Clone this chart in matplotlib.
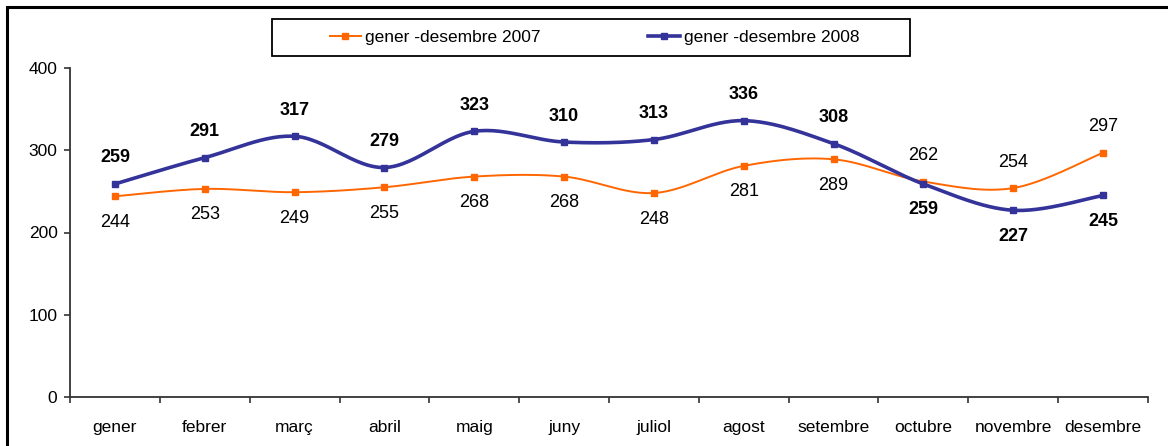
import numpy as np
import matplotlib.pyplot as plt
from matplotlib.patches import Rectangle
from matplotlib.lines import Line2D

plt.rcParams['font.family'] = ['Liberation Sans', 'DejaVu Sans']

mesos = ['gener', 'febrer', 'març', 'abril', 'maig', 'juny', 'juliol',
         'agost', 'setembre', 'octubre', 'novembre', 'desembre']
valors_2007 = [244, 253, 249, 255, 268, 268, 248, 281, 289, 262, 254, 297]
valors_2008 = [259, 291, 317, 279, 323, 310, 313, 336, 308, 259, 227, 245]
# posicio de l'etiqueta: 1 = a sobre, -1 = a sota
pos_2007 = [-1, -1, -1, -1, -1, -1, -1, -1, -1, 1, 1, 1]
pos_2008 = [1, 1, 1, 1, 1, 1, 1, 1, 1, -1, -1, -1]

taronja = '#FF6600'
blau = '#333399'


def suavitza(x, y, n=30):
    # corba Catmull-Rom entre els punts (com la linia suavitzada d'Excel)
    x = np.asarray(x, float)
    y = np.asarray(y, float)
    px = np.concatenate([[x[0]], x, [x[-1]]])
    py = np.concatenate([[y[0]], y, [y[-1]]])
    xs, ys = [], []
    for i in range(1, len(px) - 2):
        t = np.linspace(0, 1, n)
        for arr, out in ((px, xs), (py, ys)):
            p0, p1, p2, p3 = arr[i - 1], arr[i], arr[i + 1], arr[i + 2]
            m1 = (p2 - p0) / 2
            m2 = (p3 - p1) / 2
            h00 = 2 * t**3 - 3 * t**2 + 1
            h10 = t**3 - 2 * t**2 + t
            h01 = -2 * t**3 + 3 * t**2
            h11 = t**3 - t**2
            out.extend(h00 * p1 + h10 * m1 + h01 * p2 + h11 * m2)
    return np.array(xs), np.array(ys)


fig = plt.figure(figsize=(11.68, 4.46), dpi=100)
ax = fig.add_axes([70 / 1168, 1 - 397 / 446, (1148 - 70) / 1168, 329 / 446])

x = np.arange(len(mesos))

sx, sy = suavitza(x, valors_2007)
ax.plot(sx, sy, color=taronja, lw=1.4, zorder=2)
ax.plot(x, valors_2007, ls='none', marker='s', ms=4, color=taronja, zorder=3)

sx, sy = suavitza(x, valors_2008)
ax.plot(sx, sy, color=blau, lw=2.6, zorder=4)
ax.plot(x, valors_2008, ls='none', marker='s', ms=4.5, color=blau, zorder=5)

for xi, v, p in zip(x, valors_2007, pos_2007):
    ax.annotate(str(v), (xi, v), xytext=(0, 26 * p), textcoords='offset pixels',
                ha='center', va='center', fontsize=13, color='black')
for xi, v, p in zip(x, valors_2008, pos_2008):
    ax.annotate(str(v), (xi, v), xytext=(0, 26 * p), textcoords='offset pixels',
                ha='center', va='center', fontsize=13, fontweight='bold', color='black')

ax.set_xlim(-0.5, len(mesos) - 0.5)
ax.set_ylim(0, 400)
ax.set_yticks([0, 100, 200, 300, 400])
ax.set_xticks(x)
ax.set_xticklabels(mesos)
ax.set_xticks(np.arange(-0.5, len(mesos)), minor=True)
ax.tick_params(axis='x', which='major', length=0, pad=16.5, labelsize=12.5)
ax.tick_params(axis='x', which='minor', length=4, width=1.2, color='#333333')
ax.tick_params(axis='y', length=4, width=1.2, color='#333333', pad=5, labelsize=12.5)
for s in ['top', 'right']:
    ax.spines[s].set_visible(False)
for s in ['left', 'bottom']:
    ax.spines[s].set_linewidth(1.3)
    ax.spines[s].set_color('#333333')

# marc exterior
fig.patches.append(Rectangle((7 / 1168, -0.1), 1.2, 1 - 7 / 446 + 0.1,
                             transform=fig.transFigure, fill=False,
                             edgecolor='black', lw=2.2))

# llegenda
fig.patches.append(Rectangle((272 / 1168, 1 - 56 / 446), 638 / 1168, 37 / 446,
                             transform=fig.transFigure, fill=False,
                             edgecolor='black', lw=1.3))
handles = [Line2D([], [], color=taronja, lw=1.4, marker='s', ms=4),
           Line2D([], [], color=blau, lw=2.6, marker='s', ms=4.5)]
fig.legend(handles, ['gener -desembre 2007', 'gener -desembre 2008'],
           loc='center', bbox_to_anchor=(594.5 / 1168, 1 - 37.5 / 446),
           ncol=2, frameon=False, fontsize=12.5, handlelength=1.8,
           handletextpad=0.25, columnspacing=6.2, borderpad=0, borderaxespad=0)

fig.savefig('out.png', dpi=100)
